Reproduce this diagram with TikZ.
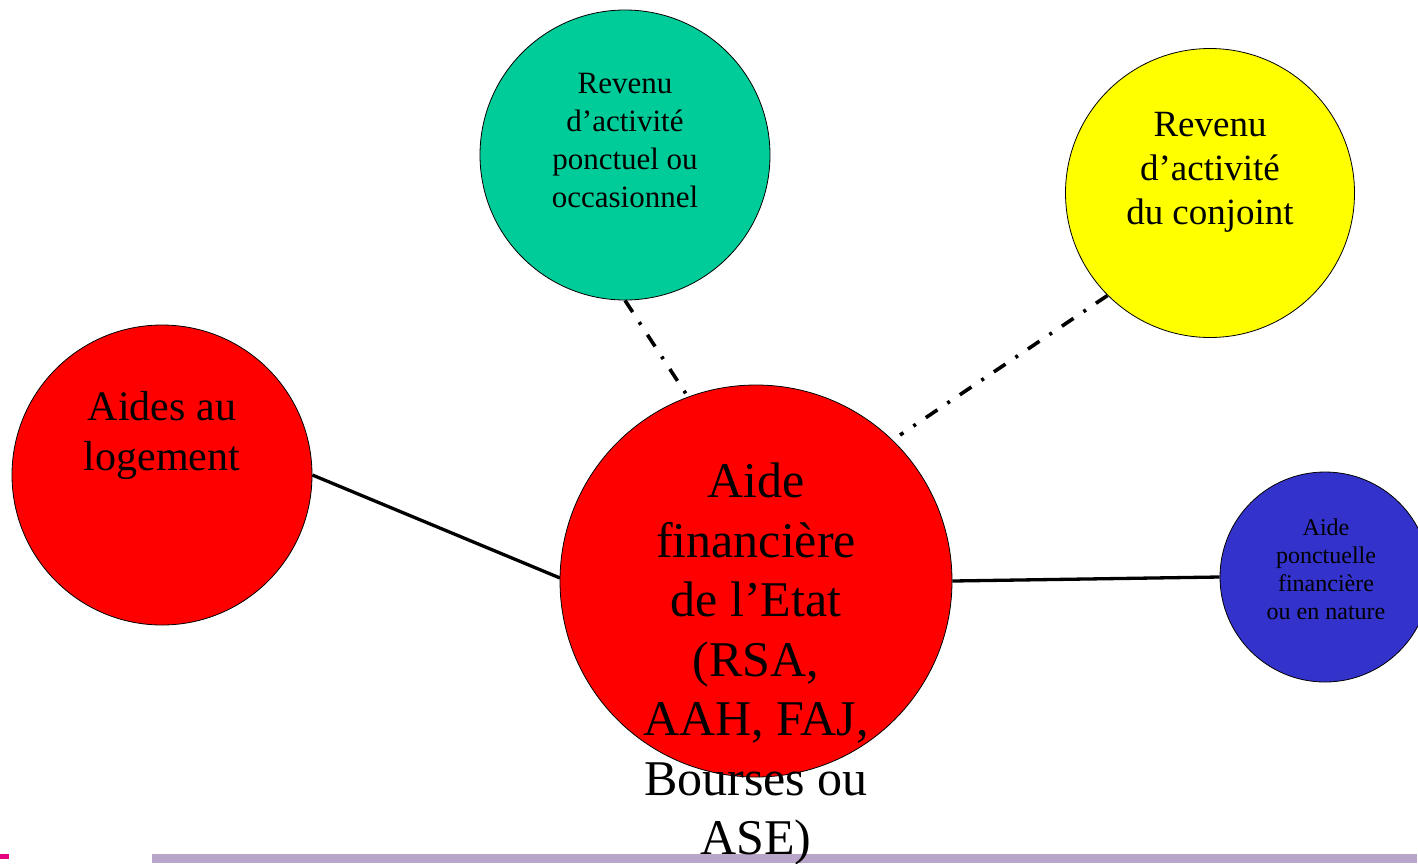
\documentclass[tikz,border=0pt]{standalone}
\usepackage{fontspec}
\setmainfont{Liberation Serif}
\definecolor{aidered}{HTML}{FF0000}
\definecolor{aidegreen}{HTML}{00CC99}
\definecolor{aideyellow}{HTML}{FFFF00}
\definecolor{aideblue}{HTML}{3333CC}
\definecolor{barlilac}{HTML}{B9A4CA}
\definecolor{logopink}{HTML}{E6007E}
\begin{document}
\begin{tikzpicture}%
	[x=1pt, y=-1pt,
	bubble/.style={circle, draw=black, thick, inner sep=0pt},
	label/.style={inner sep=0pt, align=center, anchor=north, text=black},
	link/.style={color=black, line width=3.3pt},
	dashdot/.style={color=black, line width=3.6pt, dash pattern=on 14pt off 12pt on 3pt off 12pt}]
%
\useasboundingbox (0,0) rectangle (1418,863);
%%
%% Drawing the bottom bar
%%
\fill[barlilac] (152,854) rectangle (1417,863);
\fill[logopink] (0,854) rectangle (9,859);
%%
%% Drawing the circles
%%
\node[bubble, fill=aidered, minimum size=300pt] (logement) at (162,475) {};
\node[bubble, fill=aidegreen, minimum size=290pt] (ponctuel) at (625,155) {};
\node[bubble, fill=aideyellow, minimum size=289pt] (conjoint) at (1210,193) {};
\node[bubble, fill=aideblue, minimum size=210pt] (nature) at (1325,577) {};
%%
%% Drawing the connectors
%%
\coordinate (etat-left) at (560,578);
\coordinate (etat-top) at (690,400);
\coordinate (etat-right) at (900,435);
\draw[link] (logement.east) -- (etat-left);
\draw[dashdot] (ponctuel.south) -- (etat-top);
\draw[dashdot] (conjoint.-135) -- (etat-right);
%%
%% Drawing the central circle
%%
\node[bubble, fill=aidered, minimum size=392pt] (etat) at (756,581) {};
\draw[link] (etat.east) -- (nature.west);
%%
%% Drawing the texts
%%
\node[label, font=\fontsize{42}{50}\selectfont] (logement-text) at (162,391) {Aides au\\logement};
\node[label, font=\fontsize{31}{38}\selectfont] (ponctuel-text) at (625,73) {Revenu\\d’activité\\ponctuel ou\\occasionnel};
\node[label, font=\fontsize{37}{44}\selectfont] (conjoint-text) at (1210,112) {Revenu\\d’activité\\du conjoint};
\node[label, font=\fontsize{24}{28}\selectfont] (nature-text) at (1326,519) {Aide\\ponctuelle\\financière\\ou en nature};
\node[label, font=\fontsize{50}{59.5}\selectfont] (etat-text) at (756,463) {Aide\\financière\\de l’Etat\\(RSA,\\AAH, FAJ,\\Bourses ou\\ASE)};
\end{tikzpicture}
\end{document}
